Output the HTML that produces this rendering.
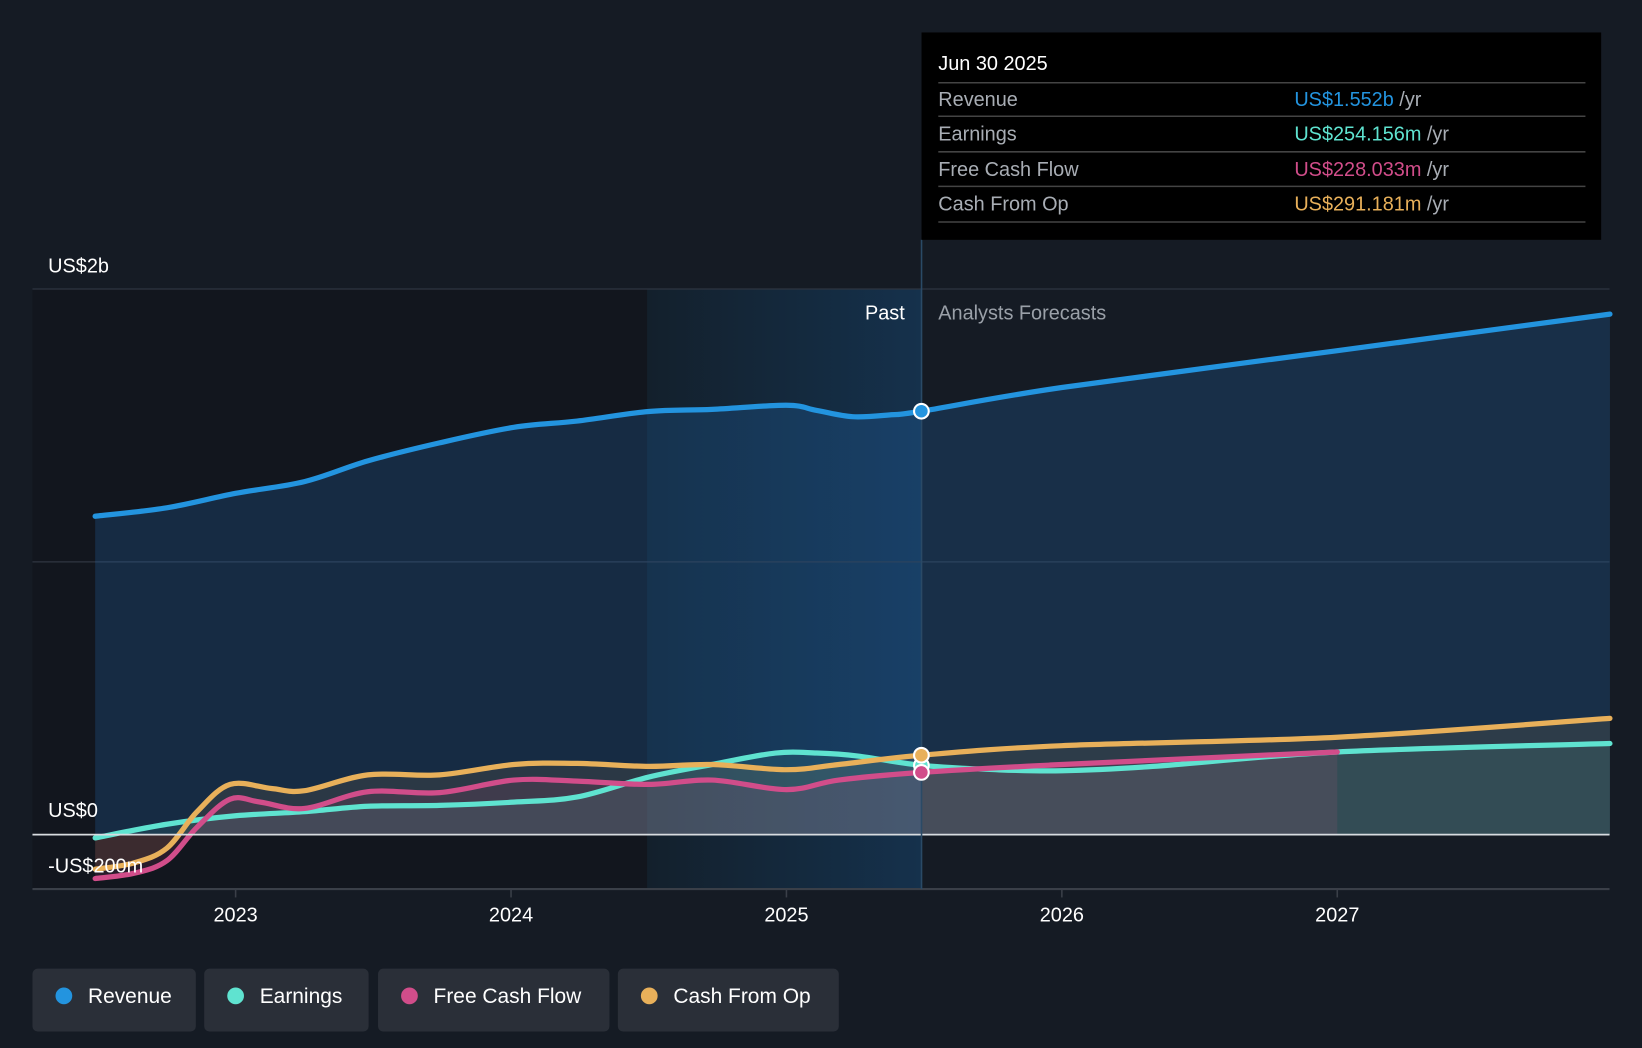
<!DOCTYPE html>
<html><head><meta charset="utf-8"><style>
html,body{margin:0;padding:0;background:#151b24;}
svg{display:block;font-family:"Liberation Sans",sans-serif;}
</style></head><body>
<svg id="chart" width="1642" height="1048" viewBox="0 0 1568 1000.77" xmlns="http://www.w3.org/2000/svg">
<defs>
<linearGradient id="hl" x1="0" x2="1" y1="0" y2="0"><stop offset="0" stop-color="#13202c"/><stop offset="1" stop-color="#15314c"/></linearGradient>
</defs>
<rect x="0" y="0" width="1568" height="1001" fill="#151b24"/>
<rect x="31" y="276" width="587" height="573" fill="#12161e"/>
<rect x="618" y="276" width="262" height="573" fill="url(#hl)"/>
<g id="grid"></g>
<g id="areas"></g>
<g id="lines"></g>
<line x1="31" x2="1537" y1="797" y2="797" stroke="#d8dce0" stroke-width="1.6"/>
<line x1="31" x2="1537" y1="849" y2="849" stroke="#3a3f48" stroke-width="2"/>
<line x1="880" x2="880" y1="229" y2="849" stroke="#2a4a66" stroke-width="1.5"/>
<g id="xticks"></g>
<text x="46" y="260" fill="#fff" font-size="19">US$2b</text>
<text x="46" y="780" fill="#fff" font-size="19">US$0</text>
<text x="46" y="833" fill="#fff" font-size="19">-US$200m</text>
<text x="864" y="305" fill="#fff" font-size="19" text-anchor="end">Past</text>
<text x="896" y="305" fill="#9aa0a8" font-size="19">Analysts Forecasts</text>
<g id="dots"></g>
<g>
<rect x="880" y="31" width="649" height="198" fill="#000"/>
<text x="896" y="67" fill="#fff" font-size="19">Jun 30 2025</text>
<line x1="896" x2="1514" y1="79" y2="79" stroke="#444" stroke-width="1.5"/>
<line x1="896" x2="1514" y1="111" y2="111" stroke="#444" stroke-width="1.5"/>
<line x1="896" x2="1514" y1="145" y2="145" stroke="#444" stroke-width="1.5"/>
<line x1="896" x2="1514" y1="178" y2="178" stroke="#444" stroke-width="1.5"/>
<line x1="896" x2="1514" y1="212" y2="212" stroke="#444" stroke-width="1.5"/>
<text x="896" y="101" fill="#a8adb4" font-size="19">Revenue</text>
<text x="896" y="134" fill="#a8adb4" font-size="19">Earnings</text>
<text x="896" y="168" fill="#a8adb4" font-size="19">Free Cash Flow</text>
<text x="896" y="201" fill="#a8adb4" font-size="19">Cash From Op</text>
<text x="1236" y="101" font-size="19"><tspan fill="#2394df">US$1.552b</tspan><tspan fill="#a8adb4"> /yr</tspan></text>
<text x="1236" y="134" font-size="19"><tspan fill="#5fe3d0">US$254.156m</tspan><tspan fill="#a8adb4"> /yr</tspan></text>
<text x="1236" y="168" font-size="19"><tspan fill="#d14d8a">US$228.033m</tspan><tspan fill="#a8adb4"> /yr</tspan></text>
<text x="1236" y="201" font-size="19"><tspan fill="#e8b05a">US$291.181m</tspan><tspan fill="#a8adb4"> /yr</tspan></text>
</g>
<g>
<g><rect x="31" y="925" width="156" height="60" rx="5" fill="#2a2f38"/><circle cx="61" cy="951" r="8" fill="#2394df"/><text x="84" y="958" fill="#fff" font-size="20">Revenue</text></g>
<g><rect x="195" y="925" width="157" height="60" rx="5" fill="#2a2f38"/><circle cx="225" cy="951" r="8" fill="#5fe3d0"/><text x="248" y="958" fill="#fff" font-size="20">Earnings</text></g>
<g><rect x="361" y="925" width="221" height="60" rx="5" fill="#2a2f38"/><circle cx="391" cy="951" r="8" fill="#d14d8a"/><text x="414" y="958" fill="#fff" font-size="20">Free Cash Flow</text></g>
<g><rect x="590" y="925" width="211" height="60" rx="5" fill="#2a2f38"/><circle cx="620" cy="951" r="8" fill="#e8b05a"/><text x="643" y="958" fill="#fff" font-size="20">Cash From Op</text></g>
</g>
</svg>
<script>
const revT=[2022.49,2022.75,2023.0,2023.25,2023.48,2023.74,2024.01,2024.24,2024.5,2024.73,2025.0,2025.11,2025.24,2025.38,2025.49,2026.0,2027.0,2027.99];
const revV=[1167,1198,1251,1294,1370,1436,1493,1516,1551,1559,1574,1555,1532,1539,1552,1639,1774,1908];
const earnT=[2022.49,2022.75,2023.0,2023.25,2023.48,2023.74,2024.01,2024.24,2024.5,2024.73,2024.96,2025.11,2025.26,2025.49,2025.76,2026.0,2026.33,2027.0,2027.99];
const earnV=[-12,38,69,84,104,107,119,138,211,257,299,299,288,254,238,234,250,303,334];
const fcfT=[2022.49,2022.63,2022.75,2022.86,2022.98,2023.09,2023.25,2023.48,2023.74,2024.01,2024.24,2024.5,2024.73,2025.0,2025.19,2025.49,2026.0,2027.0];
const fcfV=[-161,-142,-96,27,130,119,96,157,154,200,196,184,200,165,200,228,257,303];
const cfoT=[2022.49,2022.63,2022.75,2022.86,2022.98,2023.13,2023.25,2023.48,2023.74,2024.01,2024.24,2024.5,2024.73,2025.0,2025.19,2025.49,2026.0,2027.0,2027.99];
const cfoV=[-127,-104,-50,84,184,169,161,219,219,257,261,250,257,238,257,291,326,357,426];
const yearTicks=[2023,2024,2025,2026,2027];
const gridVals=[2000,1000];
const pastEnd=2025.49;

const NS='http://www.w3.org/2000/svg';
const X=t=>225+(t-2023)*263;
const Y=v=>797-v*0.2605;
function mk(tag,attrs,parent){const e=document.createElementNS(NS,tag);for(const k in attrs)e.setAttribute(k,attrs[k]);document.getElementById(parent).appendChild(e);return e;}
function path(T,V){
  const p=T.map((t,i)=>[X(t),Y(V[i])]);
  let d='M'+p[0][0]+','+p[0][1];
  for(let i=0;i<p.length-1;i++){
    const p0=p[Math.max(0,i-1)],p1=p[i],p2=p[i+1],p3=p[Math.min(p.length-1,i+2)];
    const c1=[p1[0]+(p2[0]-p0[0])/6,p1[1]+(p2[1]-p0[1])/6];
    const c2=[p2[0]-(p3[0]-p1[0])/6,p2[1]-(p3[1]-p1[1])/6];
    d+=' C'+c1[0]+','+c1[1]+' '+c2[0]+','+c2[1]+' '+p2[0]+','+p2[1];
  }
  return {d,x0:p[0][0],x1:p[p.length-1][0]};
}
gridVals.forEach(v=>{
  const l=mk('line',{x1:31,x2:1537,y1:Y(v),y2:Y(v),stroke:'#2f3540','stroke-width':1.2},'grid');
  
  
});
yearTicks.forEach(y=>{
  const l=mk('line',{x1:X(y),x2:X(y),y1:849,y2:857,stroke:'#3a3f48','stroke-width':1.5},'xticks');
  
  
  const t=mk('text',{x:X(y),y:880,fill:'#fff','font-size':19,'text-anchor':'middle'},'xticks');
  t.textContent=y;
  
  
});
const series=[
  ['revenue',revT,revV,'#2394df','rgba(35,120,200,0.22)'],
  ['earnings',earnT,earnV,'#5fe3d0','rgba(95,227,208,0.10)'],
  ['free-cash-flow',fcfT,fcfV,'#d14d8a','rgba(209,77,138,0.12)'],
  ['cash-from-op',cfoT,cfoV,'#e8b05a','rgba(232,176,90,0.10)']
];
series.forEach(s=>{
  const p=path(s[1],s[2]);
  const a=mk('path',{d:p.d+' L'+p.x1+','+Y(0)+' L'+p.x0+','+Y(0)+' Z',fill:s[4]},'areas');
  
  
  const l=mk('path',{d:p.d,fill:'none',stroke:s[3],'stroke-width':5,'stroke-linecap':'round'},'lines');
  
  
});
function valAt(T,V,t){for(let i=0;i<T.length;i++)if(Math.abs(T[i]-t)<1e-6)return V[i];return V[0];}
series.forEach(s=>{
  const c=mk('circle',{cx:X(pastEnd),cy:Y(valAt(s[1],s[2],pastEnd)),r:7,fill:s[3],stroke:'#fff','stroke-width':2},'dots');
  
  
});
</script>
</body></html>
